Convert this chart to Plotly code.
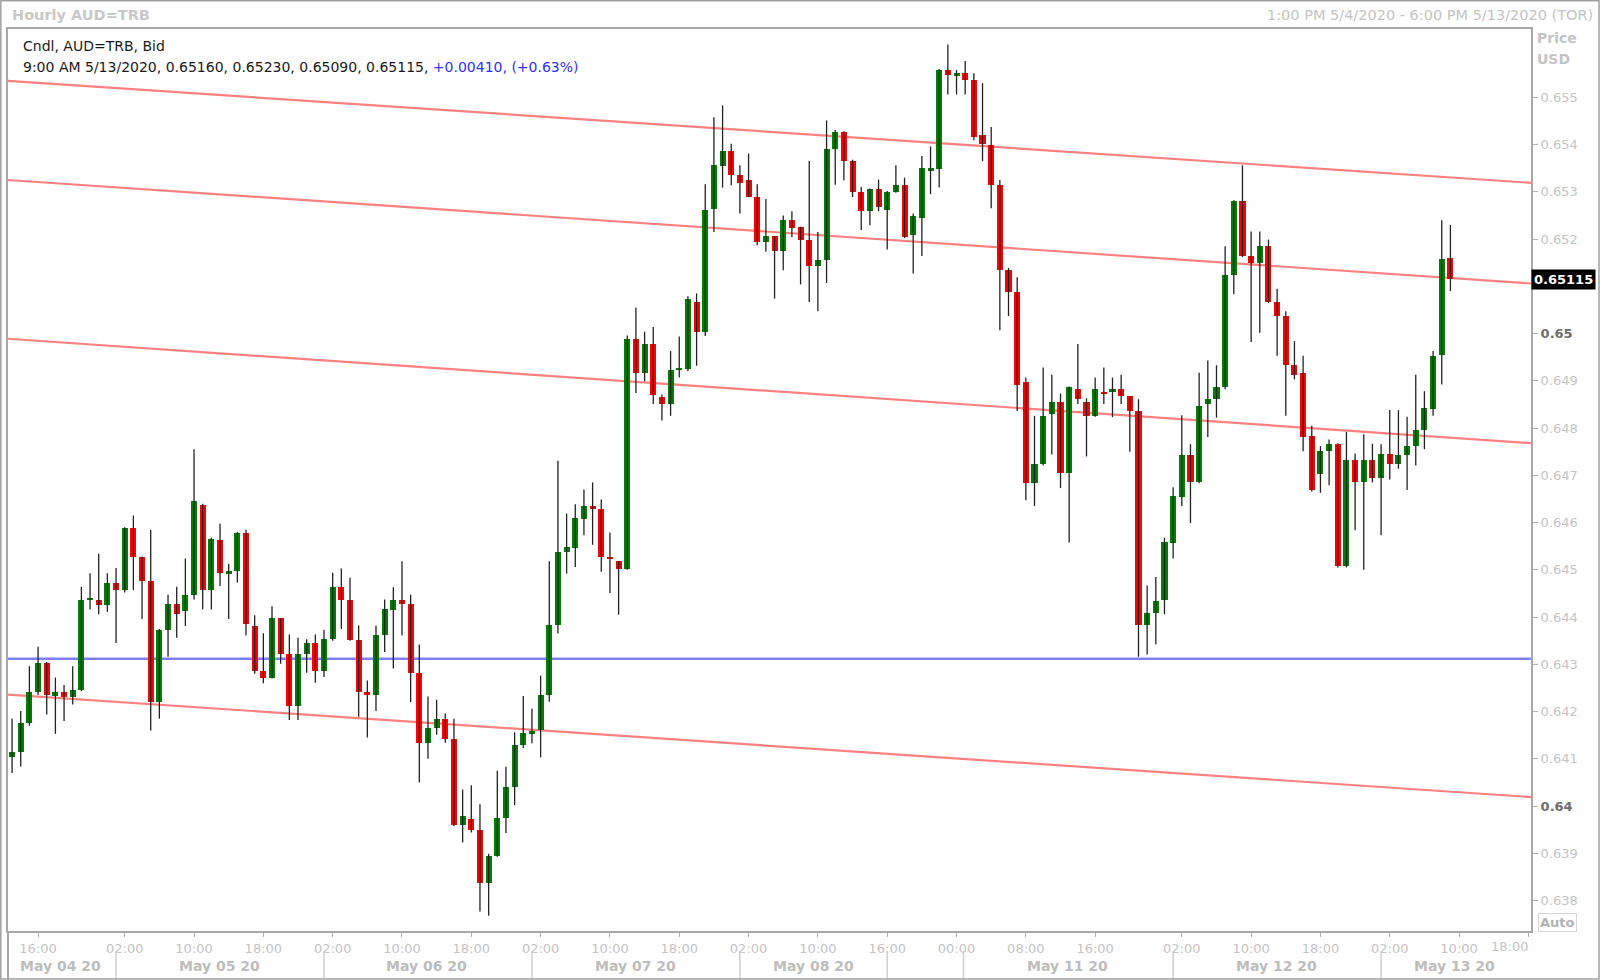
import plotly.graph_objects as go

# ---------------- data (hourly AUD=TRB candles, 1:00 PM 5/4/2020 .. 9:00 AM 5/13/2020) -------------
opens = [0.64104,0.64115,0.64175,0.64242,0.64303,0.64233,0.64242,0.64230,0.64245,0.64437,
         0.64437,0.64426,0.64473,0.64457,0.64588,0.64527,0.64476,0.64220,0.64373,0.64427,
         0.64412,0.64447,0.64638,0.64457,0.64564,0.64493,0.64497,0.64578,0.64382,0.64286,
         0.64272,0.64397,0.64321,0.64211,0.64321,0.64346,0.64285,0.64353,0.64463,0.64437,
         0.64352,0.64241,0.64236,0.64363,0.64416,0.64437,0.64427,0.64282,0.64134,0.64165,
         0.64185,0.64141,0.63959,0.63973,0.63949,0.63838,0.63895,0.63974,0.64040,0.64130,
         0.64153,0.64160,0.64235,0.64383,0.64538,0.64547,0.64608,0.64635,0.64628,0.64528,
         0.64518,0.64502,0.64988,0.64917,0.64978,0.64866,0.64851,0.64925,0.64925,0.65067,
         0.65004,0.65264,0.65355,0.65386,0.65336,0.65326,0.65290,0.65194,0.65206,0.65174,
         0.65240,0.65226,0.65199,0.65144,0.65155,0.65390,0.65426,0.65366,0.65300,0.65259,
         0.65305,0.65262,0.65300,0.65315,0.65208,0.65245,0.65345,0.65349,0.65558,0.65547,
         0.65551,0.65537,0.65420,0.65399,0.65315,0.65135,0.65088,0.64897,0.64683,0.64725,
         0.64830,0.64856,0.64704,0.64882,0.64856,0.64826,0.64877,0.64876,0.64882,0.64867,
         0.64836,0.64383,0.64408,0.64437,0.64557,0.64654,0.64743,0.64685,0.64852,0.64862,
         0.64886,0.65125,0.65280,0.65164,0.65149,0.65185,0.65067,0.65037,0.64933,0.64917,
         0.64783,0.64702,0.64752,0.64766,0.64508,0.64732,0.64685,0.64732,0.64695,0.64746,
         0.64725,0.64742,0.64762,0.64795,0.64841,0.64955,0.65160]
highs = [0.64185,0.64201,0.64296,0.64337,0.64305,0.64272,0.64256,0.64296,0.64464,0.64493,
         0.64534,0.64493,0.64504,0.64590,0.64615,0.64528,0.64585,0.64375,0.64447,0.64464,
         0.64524,0.64755,0.64640,0.64568,0.64598,0.64513,0.64580,0.64585,0.64404,0.64366,
         0.64423,0.64398,0.64363,0.64356,0.64353,0.64363,0.64373,0.64494,0.64503,0.64483,
         0.64382,0.64266,0.64382,0.64437,0.64463,0.64518,0.64447,0.64342,0.64232,0.64225,
         0.64196,0.64185,0.64035,0.64044,0.64004,0.63899,0.64075,0.64083,0.64156,0.64233,
         0.64206,0.64276,0.64518,0.64731,0.64619,0.64639,0.64670,0.64685,0.64649,0.64579,
         0.64518,0.64996,0.65055,0.65004,0.65014,0.64871,0.64963,0.64994,0.65079,0.65085,
         0.65316,0.65458,0.65483,0.65402,0.65356,0.65381,0.65316,0.65285,0.65206,0.65250,
         0.65259,0.65226,0.65365,0.65215,0.65451,0.65431,0.65428,0.65368,0.65310,0.65307,
         0.65326,0.65302,0.65356,0.65330,0.65254,0.65376,0.65396,0.65560,0.65612,0.65558,
         0.65577,0.65551,0.65530,0.65437,0.65325,0.65139,0.65119,0.64907,0.64826,0.64928,
         0.64913,0.64873,0.64888,0.64978,0.64863,0.64907,0.64928,0.64907,0.64913,0.64868,
         0.64861,0.64467,0.64485,0.64568,0.64675,0.64827,0.64766,0.64917,0.64943,0.64933,
         0.65185,0.65282,0.65356,0.65216,0.65216,0.65199,0.65095,0.65047,0.64984,0.64953,
         0.64805,0.64762,0.64776,0.64768,0.64792,0.64746,0.64787,0.64767,0.64766,0.64838,
         0.64838,0.64824,0.64913,0.64878,0.64963,0.65240,0.65230]
lows = [0.64070,0.64084,0.64170,0.64235,0.64194,0.64153,0.64180,0.64215,0.64243,0.64416,
        0.64406,0.64411,0.64345,0.64452,0.64457,0.64396,0.64160,0.64185,0.64316,0.64356,
        0.64381,0.64437,0.64416,0.64416,0.64466,0.64396,0.64473,0.64361,0.64280,0.64260,
        0.64270,0.64301,0.64182,0.64182,0.64282,0.64261,0.64273,0.64350,0.64375,0.64350,
        0.64189,0.64145,0.64201,0.64326,0.64291,0.64361,0.64220,0.64050,0.64100,0.64151,
        0.64134,0.63958,0.63923,0.63944,0.63777,0.63768,0.63893,0.63943,0.64002,0.64123,
        0.64133,0.64103,0.64221,0.64365,0.64492,0.64506,0.64573,0.64553,0.64496,0.64451,
        0.64405,0.64500,0.64874,0.64899,0.64851,0.64816,0.64826,0.64907,0.64920,0.64932,
        0.64995,0.65215,0.65309,0.65314,0.65254,0.65289,0.65187,0.65173,0.65074,0.65134,
        0.65204,0.65104,0.65067,0.65047,0.65107,0.65315,0.65324,0.65289,0.65219,0.65229,
        0.65259,0.65178,0.65298,0.65202,0.65127,0.65164,0.65295,0.65309,0.65506,0.65506,
        0.65506,0.65409,0.65365,0.65265,0.65007,0.65037,0.64836,0.64647,0.64635,0.64721,
        0.64744,0.64673,0.64558,0.64851,0.64740,0.64824,0.64851,0.64823,0.64851,0.64750,
        0.64316,0.64321,0.64342,0.64406,0.64524,0.64635,0.64599,0.64683,0.64781,0.64822,
        0.64882,0.65083,0.65162,0.64982,0.65002,0.65065,0.64953,0.64826,0.64903,0.64751,
        0.64666,0.64663,0.64679,0.64505,0.64505,0.64584,0.64500,0.64685,0.64573,0.64691,
        0.64714,0.64669,0.64721,0.64755,0.64826,0.64892,0.65090]
closes = [0.64115,0.64175,0.64242,0.64303,0.64235,0.64242,0.64231,0.64246,0.64437,0.64437,
          0.64426,0.64473,0.64457,0.64588,0.64527,0.64476,0.64220,0.64373,0.64427,0.64407,
          0.64447,0.64645,0.64457,0.64566,0.64493,0.64497,0.64578,0.64386,0.64285,0.64272,
          0.64397,0.64321,0.64211,0.64321,0.64346,0.64285,0.64353,0.64463,0.64437,0.64352,
          0.64241,0.64236,0.64363,0.64418,0.64437,0.64427,0.64282,0.64134,0.64165,0.64185,
          0.64141,0.63959,0.63979,0.63949,0.63838,0.63895,0.63974,0.64040,0.64130,0.64154,
          0.64158,0.64235,0.64383,0.64538,0.64549,0.64609,0.64635,0.64628,0.64527,0.64523,
          0.64502,0.64988,0.64917,0.64978,0.64871,0.64851,0.64923,0.64928,0.65073,0.65004,
          0.65261,0.65356,0.65386,0.65335,0.65319,0.65289,0.65194,0.65206,0.65174,0.65240,
          0.65224,0.65199,0.65144,0.65155,0.65391,0.65426,0.65365,0.65300,0.65259,0.65305,
          0.65268,0.65300,0.65315,0.65204,0.65249,0.65350,0.65350,0.65558,0.65547,0.65551,
          0.65537,0.65416,0.65401,0.65315,0.65134,0.65088,0.64891,0.64683,0.64725,0.64826,
          0.64856,0.64704,0.64887,0.64861,0.64826,0.64882,0.64872,0.64882,0.64867,0.64836,
          0.64384,0.64408,0.64434,0.64558,0.64656,0.64743,0.64685,0.64846,0.64862,0.64887,
          0.65125,0.65280,0.65164,0.65149,0.65185,0.65067,0.65037,0.64933,0.64912,0.64781,
          0.64668,0.64752,0.64766,0.64508,0.64732,0.64685,0.64732,0.64695,0.64746,0.64725,
          0.64742,0.64762,0.64795,0.64843,0.64952,0.65158,0.65115]

bar_index = list(range(1, len(closes) + 1))

# x-axis time labels (bar index of the labelled hour)
time_tick_pos = [4, 14, 22, 30, 38, 46, 54, 62, 70, 78, 86, 94, 102, 110, 118, 126, 136, 144, 152, 160, 168]
time_tick_txt = ["16:00", "02:00", "10:00", "18:00", "02:00", "10:00", "18:00", "02:00", "10:00", "18:00",
                 "02:00", "10:00", "16:00", "00:00", "08:00", "16:00", "02:00", "10:00", "18:00", "02:00", "10:00"]
last_tick_pos = 176
last_tick_txt = "18:00"
date_labels = ["May 04 20", "May 05 20", "May 06 20", "May 07 20", "May 08 20", "May 11 20", "May 12 20", "May 13 20"]
date_label_pos = [6.6, 24.9, 48.8, 72.9, 93.5, 122.8, 146.9, 167.5]
date_sep_pos = [13, 37, 61, 85, 102, 110.8, 135, 159]

# price axis
price_ticks = [0.638, 0.639, 0.640, 0.641, 0.642, 0.643, 0.644, 0.645, 0.646, 0.647,
               0.648, 0.649, 0.650, 0.651, 0.652, 0.653, 0.654, 0.655]
x_range = [0.53, 176.3]
y_range = [0.637356, 0.656446]

# drawn studies: horizontal level and 4 parallel trend lines (price at left / right edge)
h_level = 0.64312
trend_left = [0.65535, 0.65325, 0.64989, 0.64236]
trend_right = [0.65319, 0.65106, 0.64768, 0.64019]

# ---------------- figure -------------
FONT = "DejaVu Sans"
L, R, T, B = 8, 1531, 29, 931
W, H = R - L, B - T


def px(x):
    return (x - L) / W


def py(y):
    return (B - y) / H


fig = go.Figure()

# wicks
wx, wy = [], []
for n, lo, hi in zip(bar_index, lows, highs):
    wx += [n, n, None]
    wy += [lo, hi, None]
fig.add_trace(go.Scatter(x=wx, y=wy, mode="lines", line=dict(color="#222222", width=1.3),
                         hoverinfo="skip", showlegend=False))

# bodies
base = [min(o, c) for o, c in zip(opens, closes)]
height = [max(abs(c - o), 0.000025) for o, c in zip(opens, closes)]
colors = ["#008000" if c >= o else "#ff0000" for o, c in zip(opens, closes)]
fig.add_trace(go.Bar(x=bar_index, y=height, base=base, width=0.7,
                     marker=dict(color=colors, line=dict(width=0)),
                     customdata=list(zip(opens, highs, lows, closes)),
                     hovertemplate="O %{customdata[0]:.5f}<br>H %{customdata[1]:.5f}"
                                   "<br>L %{customdata[2]:.5f}<br>C %{customdata[3]:.5f}<extra></extra>",
                     showlegend=False))

shapes = []
# trend lines
for yl, yr in zip(trend_left, trend_right):
    shapes.append(dict(type="line", xref="x", yref="y", x0=x_range[0], x1=x_range[1], y0=yl, y1=yr,
                       line=dict(color="rgb(255,128,128)", width=2.2), layer="below"))
# horizontal level
shapes.append(dict(type="line", xref="x", yref="y", x0=x_range[0], x1=x_range[1], y0=h_level, y1=h_level,
                   line=dict(color="rgb(128,128,255)", width=2.5), layer="below"))
# date separators in the bottom band
for s in date_sep_pos:
    shapes.append(dict(type="line", xref="x", yref="paper", x0=s, x1=s, y0=py(951), y1=py(979),
                       line=dict(color="#cfcfcf", width=1.5)))
# left frame continuing down through the label band
shapes.append(dict(type="line", xref="paper", yref="paper", x0=0, x1=0, y0=py(931), y1=py(980),
                   line=dict(color="#a8a8a8", width=2)))
# outer frame of the window
shapes.append(dict(type="rect", xref="paper", yref="paper", x0=px(0.8), x1=px(1599), y0=py(0.8), y1=py(979),
                   line=dict(color="#a0a0a0", width=1.5)))

ann = []
ann.append(dict(text="<b>Hourly AUD=TRB</b>", x=px(10), y=py(15), xref="paper", yref="paper",
                xanchor="left", yanchor="middle", showarrow=False,
                font=dict(family=FONT, size=14.5, color="#c8c8c8")))
ann.append(dict(text="1:00 PM 5/4/2020 - 6:00 PM 5/13/2020 (TOR)", x=px(1595), y=py(15),
                xref="paper", yref="paper", xanchor="right", yanchor="middle", showarrow=False,
                font=dict(family=FONT, size=14.5, color="#c4c4c4")))
ann.append(dict(text="Cndl, AUD=TRB, Bid", x=px(21), y=py(46), xref="paper", yref="paper",
                xanchor="left", yanchor="middle", showarrow=False,
                font=dict(family=FONT, size=14, color="#1a1a1a")))
chg = 0.00410
line2 = (f"9:00 AM 5/13/2020, {opens[-1]:.5f}, {highs[-1]:.5f}, {lows[-1]:.5f}, {closes[-1]:.5f}, "
         f"<span style='color:#3030ff'>+{chg:.5f}, (+0.63%)</span>")
ann.append(dict(text=line2, x=px(21), y=py(67), xref="paper", yref="paper",
                xanchor="left", yanchor="middle", showarrow=False,
                font=dict(family=FONT, size=14, color="#1a1a1a")))
ann.append(dict(text="<b>Price</b>", x=px(1535), y=py(38), xref="paper", yref="paper",
                xanchor="left", yanchor="middle", showarrow=False,
                font=dict(family=FONT, size=14, color="#c4c4c4")))
ann.append(dict(text="<b>USD</b>", x=px(1535), y=py(59), xref="paper", yref="paper",
                xanchor="left", yanchor="middle", showarrow=False,
                font=dict(family=FONT, size=14, color="#c4c4c4")))
ann.append(dict(text=f"<b>{closes[-1]:.5f}</b>", x=px(1531), y=closes[-1], xref="paper", yref="y",
                xanchor="left", yanchor="middle", showarrow=False, bgcolor="#000000", borderpad=2,
                font=dict(family=FONT, size=13, color="#ffffff")))
ann.append(dict(text="<b>Auto</b>", x=px(1538), y=py(922), xref="paper", yref="paper",
                xanchor="left", yanchor="middle", showarrow=False, bordercolor="#d4d4d4",
                borderwidth=1, borderpad=1, bgcolor="#ffffff",
                font=dict(family=FONT, size=13, color="#b4b4b4")))
ann.append(dict(text=last_tick_txt, x=last_tick_pos - 2.2, y=py(946), xref="x", yref="paper",
                xanchor="center", yanchor="middle", showarrow=False,
                font=dict(family=FONT, size=13, color="#c4c4c4")))
for t, p in zip(date_labels, date_label_pos):
    ann.append(dict(text=f"<b>{t}</b>", x=p, y=py(966), xref="x", yref="paper",
                    xanchor="center", yanchor="middle", showarrow=False,
                    font=dict(family=FONT, size=14, color="#bdbdbd")))


def ytick_text(v):
    # the 0.651 label sits behind the last-price marker in the reference
    if abs(v - 0.651) < 1e-9:
        return ""
    s = f"{v:.3f}".rstrip("0")
    if s.endswith("."):
        s += "0"
    if abs(v * 100 - round(v * 100)) < 1e-9:
        return f"<b><span style='color:#6e6e6e'>{s}</span></b>"
    return s


fig.update_layout(
    width=1600, height=980,
    margin=dict(l=L, r=1600 - R, t=T, b=980 - B, autoexpand=False),
    paper_bgcolor="#ffffff", plot_bgcolor="#ffffff",
    font=dict(family=FONT, size=13, color="#c4c4c4"),
    shapes=shapes, annotations=ann, showlegend=False, bargap=0,
    xaxis=dict(range=x_range, showgrid=False, zeroline=False,
               tickmode="array", tickvals=time_tick_pos + [last_tick_pos],
               ticktext=time_tick_txt + [""],
               ticks="outside", ticklen=4, tickcolor="#b0b0b0", tickwidth=1,
               tickfont=dict(family=FONT, size=13, color="#c4c4c4"),
               showline=True, linecolor="#a8a8a8", linewidth=2, mirror=True, fixedrange=True),
    yaxis=dict(range=y_range, side="right", showgrid=False, zeroline=False,
               tickmode="array", tickvals=price_ticks, ticktext=[ytick_text(v) for v in price_ticks],
               ticks="outside", ticklen=5, tickcolor="#b0b0b0", tickwidth=1,
               tickfont=dict(family=FONT, size=13, color="#c4c4c4"),
               showline=True, linecolor="#a8a8a8", linewidth=2, mirror=True, fixedrange=True),
)

fig.write_html("out.html", config={"displayModeBar": False},
               post_script="document.body.style.margin='0';document.body.style.overflow='hidden';")
